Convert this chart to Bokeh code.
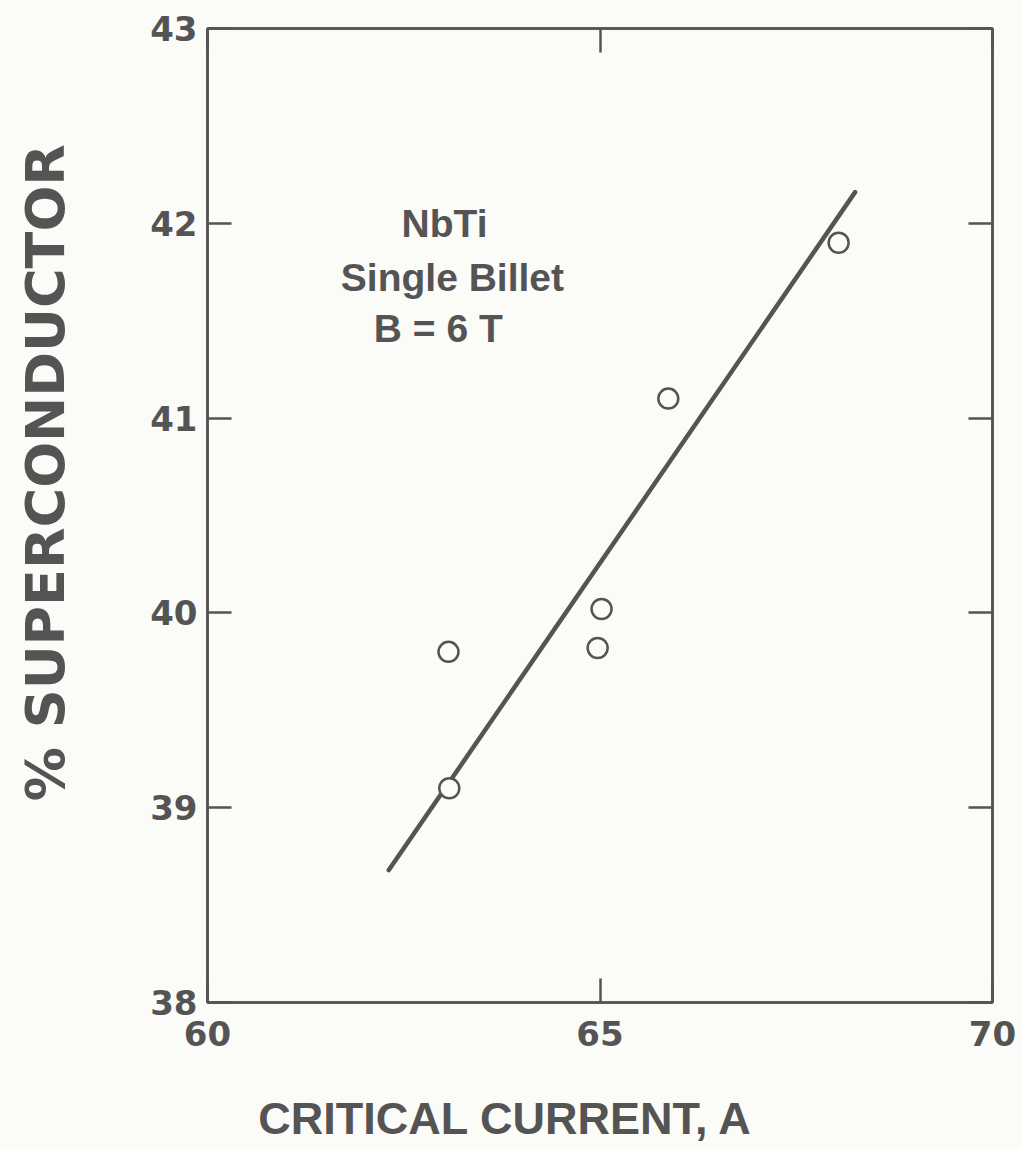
from bokeh.plotting import figure
from bokeh.models import LinearAxis, Label, FixedTicker
from bokeh.embed import file_html
from bokeh.resources import INLINE
import math

# ---- data ----
current = [63.07, 63.08, 64.97, 65.02, 65.87, 68.04]       # critical current, A
supercond = [39.80, 39.10, 39.82, 40.02, 41.10, 41.90]      # % superconductor
fit_x = [62.31, 68.25]
fit_y = [38.68, 42.16]
x_ticks = [60, 65, 70]
y_ticks = [38, 39, 40, 41, 42, 43]
annotation_lines = ["NbTi", "Single Billet", "B = 6 T"]
x_title = "CRITICAL CURRENT, A"
y_title = "% SUPERCONDUCTOR"

INK = "#545454"
BG = "#fbfbf8"

p = figure(width=1022, height=1149, x_range=(60, 70), y_range=(38, 43),
           output_backend="svg", toolbar_location=None,
           min_border_left=207, min_border_right=30,
           min_border_top=28, min_border_bottom=147,
           x_axis_location=None, y_axis_location=None)
p.background_fill_color = BG
p.border_fill_color = BG
p.outline_line_color = INK
p.outline_line_width = 2.5
p.xgrid.visible = False
p.ygrid.visible = False

def style(ax, labels=True, standoff=10):
    ax.axis_line_color = INK
    ax.axis_line_width = 2.5
    ax.major_tick_line_color = INK
    ax.major_tick_line_width = 2.5
    ax.major_tick_in = 24
    ax.major_tick_out = 0
    ax.minor_tick_line_color = None
    ax.major_label_standoff = standoff
    if labels:
        ax.major_label_text_font = "DejaVu Sans"
        ax.major_label_text_font_style = "bold"
        ax.major_label_text_font_size = "34px"
        ax.major_label_text_color = INK
    else:
        ax.major_label_text_font_size = "0px"
        ax.major_label_text_color = None

xb = LinearAxis(ticker=FixedTicker(ticks=x_ticks))
style(xb, True, 18)
p.add_layout(xb, "below")
xt = LinearAxis(ticker=FixedTicker(ticks=x_ticks))
style(xt, False, 0)
p.add_layout(xt, "above")
yl = LinearAxis(ticker=FixedTicker(ticks=y_ticks))
style(yl, True, 10)
p.add_layout(yl, "left")
yr = LinearAxis(ticker=FixedTicker(ticks=y_ticks))
style(yr, False, 0)
p.add_layout(yr, "right")

p.line(fit_x, fit_y, line_color=INK, line_width=4.5, line_cap="round")
p.scatter(current, supercond, marker="circle", size=20, fill_color=BG,
          line_color=INK, line_width=2.5)

ann_pos = [(63.02, 42.0), (63.12, 41.722), (62.94, 41.46)]
for txt, (ax_, ay_) in zip(annotation_lines, ann_pos):
    p.add_layout(Label(x=ax_, y=ay_, text=txt, text_align="center",
                       text_baseline="alphabetic", text_font="Liberation Sans",
                       text_font_style="bold", text_font_size="39px",
                       text_color=INK))

# axis titles placed in the side panels (not clipped to the frame)
p.add_layout(Label(x=63.80, y=37.405, text=x_title,
                   text_align="center", text_baseline="middle",
                   text_font="Liberation Sans", text_font_style="bold",
                   text_font_size="45px", text_color=INK), "below")
p.add_layout(Label(x=57.936, y=40.72, text=y_title,
                   angle=math.pi / 2, text_align="center",
                   text_baseline="middle", text_font="DejaVu Sans",
                   text_font_style="bold", text_font_size="54px",
                   text_color=INK), "left")

open("out.html", "w").write(file_html(p, INLINE))
